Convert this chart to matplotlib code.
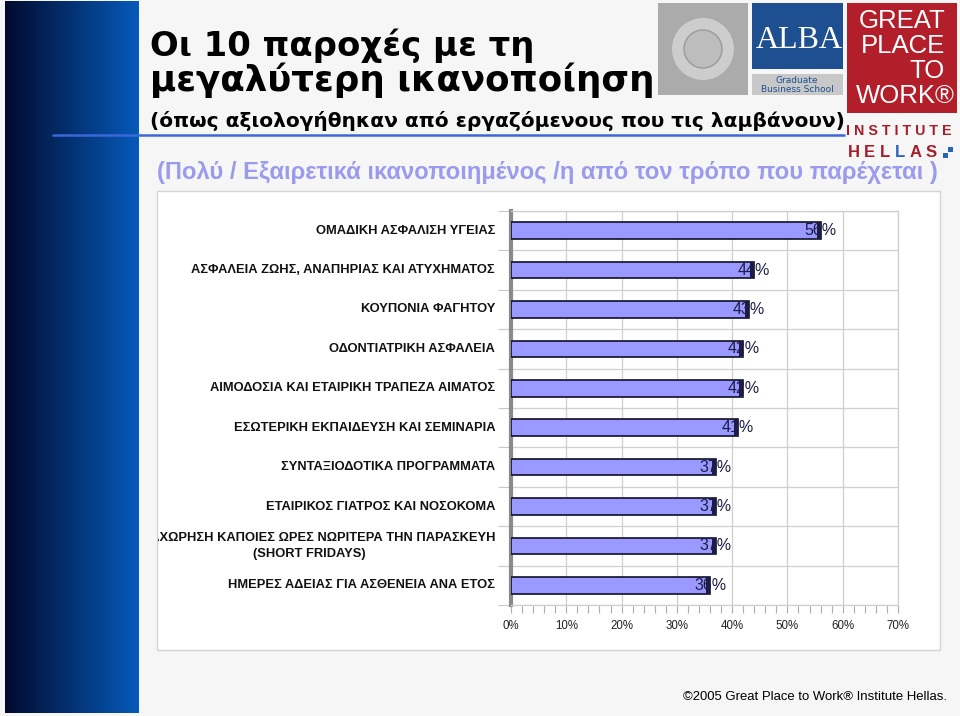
import numpy as np
import matplotlib
matplotlib.use('Agg')
import matplotlib.pyplot as plt
from matplotlib.patches import Rectangle, Circle, Polygon
from matplotlib.transforms import Bbox, TransformedBbox, blended_transform_factory

# ---------------- data ----------------
categories = [
    'ΟΜΑΔΙΚΗ ΑΣΦΑΛΙΣΗ ΥΓΕΙΑΣ',
    'ΑΣΦΑΛΕΙΑ ΖΩΗΣ, ΑΝΑΠΗΡΙΑΣ ΚΑΙ ΑΤΥΧΗΜΑΤΟΣ',
    'ΚΟΥΠΟΝΙΑ ΦΑΓΗΤΟΥ',
    'ΟΔΟΝΤΙΑΤΡΙΚΗ ΑΣΦΑΛΕΙΑ',
    'ΑΙΜΟΔΟΣΙΑ ΚΑΙ ΕΤΑΙΡΙΚΗ ΤΡΑΠΕΖΑ ΑΙΜΑΤΟΣ',
    'ΕΣΩΤΕΡΙΚΗ ΕΚΠΑΙΔΕΥΣΗ ΚΑΙ ΣΕΜΙΝΑΡΙΑ',
    'ΣΥΝΤΑΞΙΟΔΟΤΙΚΑ ΠΡΟΓΡΑΜΜΑΤΑ',
    'ΕΤΑΙΡΙΚΟΣ ΓΙΑΤΡΟΣ ΚΑΙ ΝΟΣΟΚΟΜΑ',
    'ΠΑΡΑΧΩΡΗΣΗ ΚΑΠΟΙΕΣ ΩΡΕΣ ΝΩΡΙΤΕΡΑ ΤΗΝ ΠΑΡΑΣΚΕΥΗ\n(SHORT FRIDAYS)',
    'ΗΜΕΡΕΣ ΑΔΕΙΑΣ ΓΙΑ ΑΣΘΕΝΕΙΑ ΑΝΑ ΕΤΟΣ',
]
values = [56, 44, 43, 42, 42, 41, 37, 37, 37, 36]
x_ticks = [0, 10, 20, 30, 40, 50, 60, 70]
x_tick_labels = ['0%', '10%', '20%', '30%', '40%', '50%', '60%', '70%']

title_line1 = 'Οι 10 παροχές με τη'
title_line2 = 'μεγαλύτερη ικανοποίηση'
subtitle = '(όπως αξιολογήθηκαν από εργαζόμενους που τις λαμβάνουν)'
subtitle2 = '(Πολύ / Εξαιρετικά ικανοποιημένος /η από τον τρόπο που παρέχεται )'
footer = '©2005 Great Place to Work® Institute Hellas.'

# ---------------- figure ----------------
W, H = 960, 716
fig = plt.figure(figsize=(9.6, 7.16), dpi=100)
fig.patch.set_facecolor('#f6f6f6')
bg = fig.add_axes([0, 0, 1, 1], zorder=0)
bg.set_xlim(0, W)
bg.set_ylim(H, 0)
bg.axis('off')

# left gradient band
grad = np.linspace(0, 1, 256)
c0 = np.array([0x02, 0x0a, 0x2e]) / 255
c1 = np.array([0x06, 0x5a, 0xba]) / 255
img = (c0[None, :] * (1 - grad[:, None]) + c1[None, :] * grad[:, None])[None, :, :]
bg.imshow(img, extent=(5, 139, 713, 1), aspect='auto', zorder=1, interpolation='bilinear')

# blue rule under title
bg.plot([52, 845], [135, 135], color='#3a68d8', lw=1.8, zorder=2, solid_capstyle='butt')

# chart frame
bg.add_patch(Rectangle((157, 191), 783, 459, facecolor='white', edgecolor='#d4d4d4', lw=1, zorder=1))

# logos (approximate)
bg.add_patch(Rectangle((658, 3), 90, 92, facecolor='#ababab', edgecolor='none', zorder=2))
bg.add_patch(Circle((703, 49), 31, facecolor='#cdcdcd', edgecolor='none', zorder=3))
bg.add_patch(Circle((703, 49), 19, facecolor='#bdbdbd', edgecolor='#9a9a9a', lw=1, zorder=4))
bg.add_patch(Rectangle((752, 3), 91, 66, facecolor='#1d4f91', edgecolor='none', zorder=2))
bg.add_patch(Polygon([(752, 69), (843, 62), (843, 69)], closed=True, facecolor='#1d4f91', edgecolor='none', zorder=2))
bg.add_patch(Rectangle((752, 74), 91, 21, facecolor='#c8c8c8', edgecolor='none', zorder=2))
bg.text(799, 41, 'ALBA', ha='center', va='center', color='white', fontsize=23,
        family='Liberation Serif', zorder=3)
bg.text(797, 85, 'Graduate\nBusiness School', ha='center', va='center', color='#1d4f91',
        fontsize=6.5, family='Liberation Sans Narrow', linespacing=1.0, zorder=3)
bg.add_patch(Rectangle((847, 3), 110, 110, facecolor='#b21e29', edgecolor='none', zorder=2))
gp = []
for txt, yb, xr in [('GREAT', 28, 945), ('PLACE', 53, 945), ('TO', 78, 945), ('WORK®', 103, 955)]:
    gp.append(bg.text(xr, yb, txt, ha='right', va='baseline', color='white',
                      fontsize=20, family='Liberation Sans', zorder=3))
# INSTITUTE / HELLAS lettering
inst = bg.text(846, 135, 'I N S T I T U T E', ha='left', va='baseline', color='#a51d27',
               fontsize=11, fontweight='bold', family='Liberation Sans', zorder=3)
for i, ch in enumerate('HELLAS'):
    bg.text(846 + 15.5 * (i + 0.5), 157, ch, ha='center', va='baseline',
            color='#2a63b8' if i == 3 else '#a51d27',
            fontsize=12, fontweight='bold', family='Liberation Sans', zorder=3)
bg.add_patch(Rectangle((948, 147), 5, 5, facecolor='#2a63b8', edgecolor='none', zorder=3))
bg.add_patch(Rectangle((943, 153), 5, 5, facecolor='#2a63b8', edgecolor='none', zorder=3))

# titles
t1 = bg.text(150, 56, title_line1, ha='left', va='baseline', fontsize=26, fontweight='bold',
             family='DejaVu Sans', color='black', zorder=3)
t2 = bg.text(150, 91, title_line2, ha='left', va='baseline', fontsize=26, fontweight='bold',
             family='DejaVu Sans', color='black', zorder=3)
t3 = bg.text(150, 127, subtitle, ha='left', va='baseline', fontsize=14, fontweight='bold',
             family='DejaVu Sans', color='black', zorder=3)
t4 = bg.text(157, 179, subtitle2, ha='left', va='baseline', fontsize=14, fontweight='bold',
             family='Liberation Sans', color='#9a9aee', zorder=3)
t5 = bg.text(947, 700, footer, ha='right', va='baseline', fontsize=10,
             family='Liberation Sans', color='black', zorder=3)

# ---------------- chart ----------------
ax = fig.add_axes([511 / W, 1 - 605 / H, 387 / W, 394 / H], zorder=2)
ax.set_facecolor('none')
n = len(values)
ypos = np.arange(n)
ax.barh(ypos, values, height=0.42, color='#9999ff', edgecolor='#10102a', lw=1.2, zorder=3)
ax.barh(ypos, [0.7] * n, left=np.array(values) - 0.7, height=0.42, color='#1c1c46',
        edgecolor='none', zorder=3)
vlabels = []
for y, v in zip(ypos, values):
    vlabels.append(ax.text(v, y, f'{v}%', ha='center', va='center', fontsize=10.5, color='#1c1c48',
                           family='Liberation Sans', zorder=5))

ax.set_xlim(0, 70)
ax.set_ylim(n - 0.5, -0.5)
ax.set_xticks(x_ticks)
ax.set_xticklabels(x_tick_labels, family='Liberation Sans', fontsize=8.3, color='#222222')
ax.set_xticks(np.arange(0, 71, 2), minor=True)
ax.tick_params(axis='x', which='both', direction='out', length=6, width=0.8, color='#b0b0b0', pad=5)
ax.set_yticks(np.arange(-0.5, n, 1))
ax.set_yticklabels([])
ax.tick_params(axis='y', which='both', direction='out', length=9.5, width=0.8, color='#c8c8c8')
ax.grid(True, axis='both', which='major', color='#cfcfcf', lw=0.9, zorder=0)
ax.set_axisbelow(True)
for s in ['top', 'right', 'bottom']:
    ax.spines[s].set_color('#cfcfcf')
    ax.spines[s].set_linewidth(0.9)
ax.spines['left'].set_color('#8a8a8a')
ax.spines['left'].set_linewidth(3)

frame_bbox = TransformedBbox(Bbox.from_extents(158 / W, 1 - 650 / H, 940 / W, 1 - 191 / H),
                             fig.transFigure)
lab_tr = blended_transform_factory(fig.transFigure, ax.transData)
clabels = []
for y, c in zip(ypos, categories):
    t = ax.text(495 / W, y, c, transform=lab_tr, ha='right', va='center', multialignment='center',
                fontsize=8, fontweight='bold', family='Liberation Sans', color='#111111',
                linespacing=1.45)
    t.set_clip_box(frame_bbox)
    t.set_clip_on(True)
    clabels.append(t)

# ---- size texts to the reference widths ----
fig.canvas.draw()
r = fig.canvas.get_renderer()
def fit(t, target):
    w = t.get_window_extent(r).width
    return t.get_fontsize() * target / w

for t, target in [(t1, 385), (t2, 505), (t3, 695), (t4, 781), (t5, 265), (inst, 105)]:
    t.set_fontsize(fit(t, target))
fs_g = fit(gp[0], 87)
for t in gp:
    t.set_fontsize(fs_g)
fs_c = fit(clabels[0], 180)
for t in clabels:
    t.set_fontsize(fs_c)
fs_v = fit(vlabels[0], 32)
for t in vlabels:
    t.set_fontsize(fs_v)

fig.savefig('out.png', dpi=100, facecolor=fig.get_facecolor())
